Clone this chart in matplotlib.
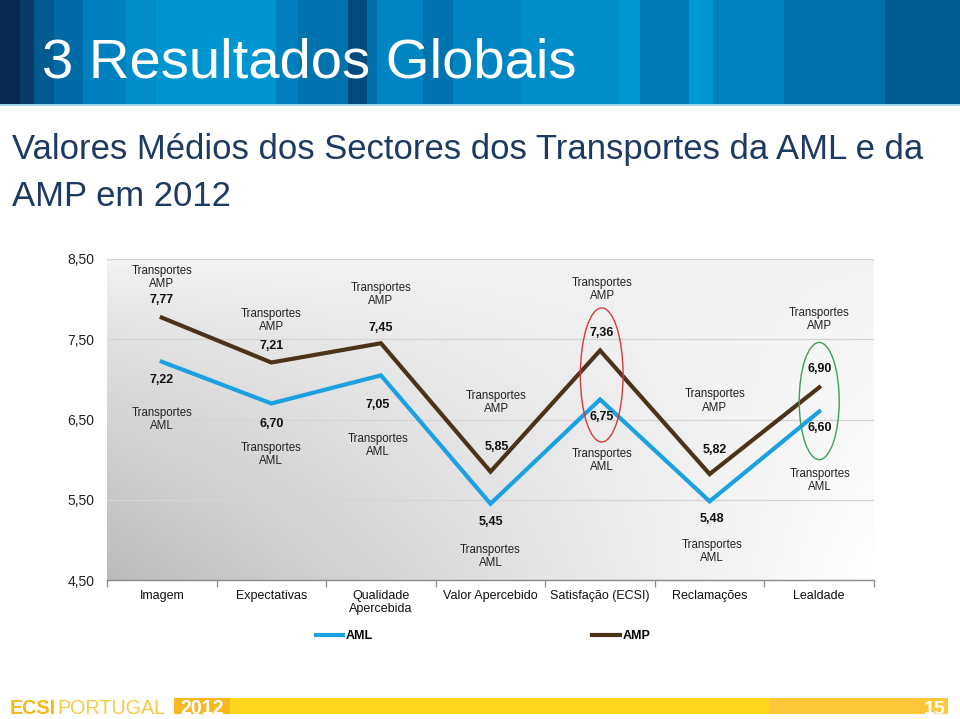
import matplotlib
matplotlib.use("Agg")
import matplotlib.pyplot as plt
import numpy as np
from matplotlib.patches import Rectangle, Ellipse
from matplotlib.lines import Line2D

plt.rcParams['font.family'] = ['Liberation Sans', 'DejaVu Sans']

# ---------------- data ----------------
categories = ["Imagem", "Expectativas", "Qualidade\nApercebida", "Valor Apercebido",
              "Satisfação (ECSI)", "Reclamações", "Lealdade"]
aml = [7.22, 6.70, 7.05, 5.45, 6.75, 5.48, 6.60]
amp = [7.77, 7.21, 7.45, 5.85, 7.36, 5.82, 6.90]
series_names = ["AML", "AMP"]
point_name_amp = "Transportes\nAMP"
point_name_aml = "Transportes\nAML"
yticks = [4.5, 5.5, 6.5, 7.5, 8.5]
title = "3 Resultados Globais"
subtitle_lines = ["Valores Médios dos Sectores dos Transportes da AML e da", "AMP em 2012"]

# ---------------- layout (pixel offsets for labels) ----------------
amp_val_off = [18, 17, 15, 25, 17, 24, 18]
amp_name_off = [40, 42, 49, 69, 61, 73, 68]
amp_x_off = [0, 0, 0, 6, 2, 5, 0]
aml_val_off = [-18, -21, -30, -18, -18, -18, -17]
aml_name_off = [-58, -51, -70, -53, -61, -50, -69]
aml_x_off = [0, 0, -3, 0, 2, 2, 1]

C_AML = "#1BA1E2"
C_AMP = "#4B3319"

W, H = 960, 719
fig = plt.figure(figsize=(W / 100, H / 100), dpi=100)

# ---------------- decoration layer ----------------
deco = fig.add_axes([0, 0, 1, 1], zorder=0)
deco.set_xlim(0, W)
deco.set_ylim(H, 0)
deco.axis("off")

stripe_edges = [0, 20, 34, 54, 83, 126, 156, 276, 298, 348, 367, 377, 423, 453, 521, 619,
                640, 689, 713, 784, 885, 960]
stripe_cols = ["#082A52", "#0B3A66", "#005A8F", "#006BA6", "#0080BF", "#008CC9", "#0094D1",
               "#0080BE", "#0072AD", "#004A7D", "#0070A8", "#0085C2", "#0072AE", "#0085C2",
               "#008DCA", "#0098D4", "#0078B4", "#0098D4", "#0082C0", "#0070AA", "#005C90"]
for i, c in enumerate(stripe_cols):
    deco.add_patch(Rectangle((stripe_edges[i], 0), stripe_edges[i + 1] - stripe_edges[i], 104,
                             facecolor=c, edgecolor="none"))
deco.add_patch(Rectangle((0, 104), W, 2, facecolor="#9FD3EC", edgecolor="none"))
deco.text(42, 78, title, color="white", fontsize=40.5, va="baseline", ha="left")
deco.text(12, 159, subtitle_lines[0], color="#1D3A62", fontsize=24.9, va="baseline", ha="left")
deco.text(12, 206, subtitle_lines[1], color="#1D3A62", fontsize=24.9, va="baseline", ha="left")

# bottom bar
deco.add_patch(Rectangle((230, 698), 540, 16, facecolor="#FFD61E", edgecolor="none"))
deco.add_patch(Rectangle((770, 698), 178, 16, facecolor="#FCC73A", edgecolor="none"))
deco.add_patch(Rectangle((174, 698), 56, 16, facecolor="#F7B71F", edgecolor="none"))
fs_logo = 14.2
t1 = deco.text(10, 714, "ECSI", color="#F4B818", fontsize=fs_logo, fontweight="bold",
               va="baseline", ha="left")
fig.canvas.draw()
bb = t1.get_window_extent()
deco.text(bb.x1 + 1, 714, "PORTUGAL", color="#F8CA45", fontsize=fs_logo,
          va="baseline", ha="left")
deco.text(202, 714, "2012", color="white", fontsize=fs_logo, fontweight="bold",
          va="baseline", ha="center")
deco.text(935, 714, "15", color="white", fontsize=14, fontweight="bold",
          va="baseline", ha="center")

# ---------------- chart ----------------
ax_l, ax_r, ax_t, ax_b = 107, 874, 259, 580
ax = fig.add_axes([ax_l / W, 1 - ax_b / H, (ax_r - ax_l) / W, (ax_b - ax_t) / H], zorder=1)
ax.patch.set_alpha(0)
x = np.arange(len(categories))
ax.set_xlim(-0.5, len(categories) - 0.5)
ax.set_ylim(yticks[0], yticks[-1])

# gradient background
gx = np.linspace(0, 1, 300)
gy = np.linspace(0, 1, 200)
GX, GY = np.meshgrid(gx, gy)
gray = 0.955 - 0.22 * (1 - GX) ** 1.1 * (1 - GY) ** 0.8 + 0.045 * GX * (1 - GY)
gray = np.clip(gray, 0, 1)
ax.imshow(np.dstack([gray, gray, gray]), extent=[-0.5, len(categories) - 0.5, yticks[0], yticks[-1]],
          origin="lower", aspect="auto", zorder=0, interpolation="bilinear")

for yv in yticks[1:]:
    ax.axhline(yv, color="#D4D4D4", lw=0.9, zorder=1)

ax.plot(x, aml, color=C_AML, lw=3.0, zorder=3, solid_joinstyle="miter", label=series_names[0])
ax.plot(x, amp, color=C_AMP, lw=3.0, zorder=3, solid_joinstyle="miter", label=series_names[1])

for i in range(len(categories)):
    ax.annotate(f"{amp[i]:.2f}".replace(".", ","), (x[i], amp[i]), xytext=(amp_x_off[i], amp_val_off[i]),
                textcoords="offset pixels", ha="center", va="center", fontsize=9, fontweight="bold",
                color="#111111", zorder=5)
    ax.annotate(point_name_amp, (x[i], amp[i]), xytext=(amp_x_off[i], amp_name_off[i]),
                textcoords="offset pixels", ha="center", va="center", fontsize=8.3, color="#222222",
                linespacing=1.15, zorder=5)
    ax.annotate(f"{aml[i]:.2f}".replace(".", ","), (x[i], aml[i]), xytext=(aml_x_off[i], aml_val_off[i]),
                textcoords="offset pixels", ha="center", va="center", fontsize=9, fontweight="bold",
                color="#111111", zorder=5)
    ax.annotate(point_name_aml, (x[i], aml[i]), xytext=(aml_x_off[i], aml_name_off[i]),
                textcoords="offset pixels", ha="center", va="center", fontsize=8.3, color="#222222",
                linespacing=1.15, zorder=5)

# highlight ellipses
i_sat = 4
ax.add_patch(Ellipse((x[i_sat] + 0.015, (amp[i_sat] + aml[i_sat]) / 2), 0.39, 1.67,
                     fill=False, edgecolor="#D6383C", lw=1.0, zorder=4))
i_lea = 6
ax.add_patch(Ellipse((x[i_lea], (amp[i_lea] + aml[i_lea]) / 2 - 0.02), 0.365, 1.46,
                     fill=False, edgecolor="#3E9E5A", lw=1.0, zorder=4))

ax.set_yticks(yticks)
ax.set_yticklabels([f"{v:.2f}".replace(".", ",") for v in yticks], fontsize=10, color="#222222")
ax.set_xticks(x)
ax.set_xticklabels(categories, fontsize=9, color="#111111", linespacing=1.1)
ax.set_xticks(np.arange(-0.5, len(categories), 1.0), minor=True)
ax.tick_params(axis="y", length=0, pad=9)
ax.tick_params(axis="x", which="major", length=0, pad=7)
ax.tick_params(axis="x", which="minor", length=5, color="#8A8A8A", width=0.9)
for s in ["top", "right", "left"]:
    ax.spines[s].set_visible(False)
ax.spines["bottom"].set_color("#8A8A8A")
ax.spines["bottom"].set_linewidth(1.0)

handles = [Line2D([], [], color=C_AML, lw=3), Line2D([], [], color=C_AMP, lw=3)]
leg = fig.legend(handles, series_names, loc="center", bbox_to_anchor=(483 / W, 1 - 636 / H),
                 ncol=2, frameon=False, handlelength=2.2, handletextpad=0.25, columnspacing=17.5,
                 prop={"size": 9, "weight": "bold"})

fig.savefig("out.png", dpi=100)
